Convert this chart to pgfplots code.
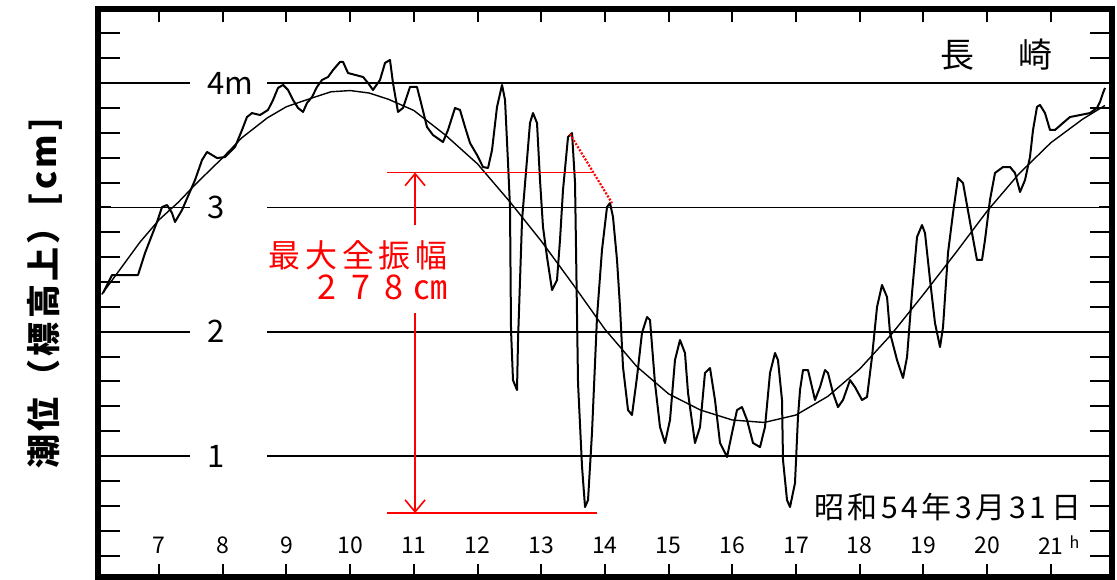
\documentclass[border=0pt]{standalone}
\usepackage{pgfplots}
\pgfplotsset{compat=1.18}
\usepackage{pgfplotstable}
\usepackage{fontspec}
\usetikzlibrary{arrows.meta}
\setmainfont{Noto Sans CJK JP}
\newfontfamily\redfont[LetterSpace=15]{Noto Sans CJK JP}
\newfontfamily\numfont[LetterSpace=44]{Noto Sans CJK JP}
\newfontfamily\datefont[LetterSpace=12]{Noto Sans CJK JP}
\newfontfamily\ylabfont[LetterSpace=10]{Noto Sans CJK JP}

\pgfplotstableread{
h v
6.121 2.311
6.262 2.456
6.670 2.456
6.780 2.633
6.969 2.883
7.047 3.003
7.126 3.019
7.204 2.955
7.251 2.883
7.361 2.979
7.565 3.220
7.675 3.381
7.754 3.446
7.911 3.397
8.036 3.405
8.193 3.486
8.303 3.623
8.381 3.727
8.460 3.759
8.586 3.743
8.711 3.784
8.790 3.864
8.868 3.961
8.947 3.985
9.025 3.945
9.104 3.864
9.182 3.800
9.261 3.768
9.323 3.840
9.402 3.888
9.480 3.969
9.559 4.025
9.653 4.049
9.732 4.105
9.841 4.170
9.889 4.170
9.967 4.081
10.203 4.049
10.281 4.001
10.359 3.945
10.469 4.025
10.548 4.162
10.626 4.186
10.673 4.001
10.752 3.768
10.830 3.800
10.940 3.969
11.050 3.969
11.129 3.808
11.207 3.647
11.301 3.582
11.458 3.526
11.537 3.623
11.647 3.800
11.725 3.784
11.804 3.647
11.882 3.518
11.992 3.422
12.086 3.325
12.165 3.317
12.228 3.462
12.306 3.808
12.385 3.985
12.432 3.864
12.479 3.357
12.510 3.003
12.526 2.014
12.557 1.611
12.620 1.531
12.636 1.933
12.699 2.899
12.824 3.679
12.871 3.759
12.934 3.679
12.981 3.220
13.028 2.842
13.091 2.601
13.170 2.335
13.248 2.416
13.295 2.738
13.342 3.140
13.421 3.566
13.484 3.598
13.531 3.196
13.578 1.587
13.641 0.912
13.688 0.590
13.735 0.646
13.797 1.185
13.876 2.118
13.954 2.657
14.033 3.003
14.080 3.035
14.127 2.923
14.190 2.577
14.237 2.199
14.284 1.716
14.363 1.370
14.425 1.330
14.504 1.636
14.582 1.990
14.661 2.118
14.708 2.094
14.786 1.587
14.865 1.233
14.943 1.105
15.022 1.290
15.100 1.772
15.179 1.933
15.257 1.829
15.305 1.507
15.414 1.105
15.493 1.233
15.571 1.668
15.650 1.708
15.728 1.451
15.807 1.105
15.917 0.992
15.995 1.185
16.074 1.370
16.152 1.394
16.231 1.290
16.325 1.105
16.435 1.072
16.513 1.233
16.592 1.668
16.670 1.829
16.717 1.772
16.780 1.451
16.796 0.968
16.859 0.646
16.906 0.590
16.984 0.783
17.031 1.314
17.063 1.531
17.110 1.692
17.188 1.692
17.251 1.555
17.298 1.451
17.377 1.555
17.455 1.692
17.502 1.668
17.581 1.507
17.659 1.394
17.738 1.451
17.848 1.611
17.926 1.555
18.036 1.451
18.115 1.475
18.193 1.796
18.272 2.199
18.350 2.376
18.429 2.279
18.476 1.990
18.586 1.772
18.680 1.628
18.743 1.796
18.821 2.311
18.900 2.762
18.978 2.858
19.025 2.794
19.104 2.416
19.182 2.070
19.261 1.877
19.308 2.038
19.386 2.633
19.465 2.955
19.543 3.237
19.622 3.196
19.763 2.794
19.841 2.577
19.920 2.577
19.967 2.738
20.045 3.060
20.124 3.277
20.250 3.325
20.360 3.325
20.438 3.277
20.517 3.124
20.595 3.220
20.673 3.405
20.721 3.623
20.783 3.808
20.830 3.824
20.909 3.759
20.987 3.623
21.066 3.623
21.191 3.679
21.301 3.727
21.458 3.743
21.615 3.759
21.725 3.800
21.772 3.848
21.819 3.920
21.851 3.961
}\record

\pgfplotstableread{
h v
6.10 2.30
6.30 2.44
6.70 2.72
7.00 2.90
7.30 3.04
7.60 3.20
8.00 3.40
8.30 3.56
8.70 3.72
9.00 3.81
9.40 3.88
9.70 3.93
10.00 3.94
10.30 3.92
10.60 3.87
11.00 3.78
11.50 3.58
12.00 3.35
12.50 3.05
13.00 2.73
13.50 2.38
14.00 2.02
14.50 1.72
15.00 1.50
15.50 1.37
16.00 1.29
16.50 1.27
17.00 1.33
17.50 1.48
18.00 1.70
18.50 1.98
19.00 2.30
19.50 2.63
20.00 2.97
20.50 3.27
21.00 3.52
21.50 3.71
21.85 3.82
}\smoothtide

\begin{document}
\begin{tikzpicture}
\path[use as bounding box] (-49pt,-1pt) rectangle (509.5pt,288.5pt);
\begin{axis}[
  at={(0pt,0pt)}, anchor=south west,
  scale only axis, width=507pt, height=284pt,
  xmin=6.042, xmax=21.961, ymin=0.027, ymax=4.596,
  axis line style={line width=2.8pt},
  tick align=inside,
  every tick/.style={black, line width=1pt},
  major tick length=6.5pt,
  minor tick length=11pt,
  xtick={7,8,9,10,11,12,13,14,15,16,17,18,19,20,21},
  xticklabels={7,8,9,10,11,12,13,14,15,16,17,18,19,20,21\rlap{\hspace{3pt}\raisebox{3pt}{\fontsize{8}{8}\selectfont h}}},
  xticklabel style={anchor=center, yshift=16pt, font=\fontsize{11.5}{11.5}\selectfont},
  ytick={1,2,3,4},
  yticklabels={\hspace*{8.5pt}1,\hspace*{8.5pt}2,\hspace*{8.5pt}3,\hspace*{8.5pt}4m},
  yticklabel style={anchor=west, xshift=46pt, fill=white, inner xsep=0pt, inner ysep=1pt, text width=38.5pt, align=left, font=\fontsize{15.5}{15.5}\selectfont},
  minor ytick={0.2,0.4,0.6,0.8,1.2,1.4,1.6,1.8,2.2,2.4,2.6,2.8,3.2,3.4,3.6,3.8,4.2,4.4},
  ymajorgrids, grid style={black, line width=0.9pt},
  ylabel={潮位（標高上）[cm]},
  ylabel style={at={(axis description cs:-0.0523,0.5)}, anchor=center, font=\fontsize{17}{17}\ylabfont\bfseries},
]
\addplot[black, line width=0.7pt] table[x=h, y=v] {\smoothtide};
\addplot[black, line width=1pt, line join=round] table[x=h, y=v] {\record};
% red annotations
\addplot[red, line width=0.8pt] coordinates {(10.58,3.281) (13.80,3.281)};
\addplot[red, line width=0.8pt] coordinates {(10.58,0.541) (13.88,0.541)};
\addplot[red, line width=1.1pt, dash pattern=on 1pt off 0.8pt] coordinates {(13.452,3.590) (14.111,3.035)};
\draw[red, line width=0.8pt, -{Straight Barb[length=6pt,width=10pt]}] (axis cs:11.02,2.858) -- (axis cs:11.02,3.281);
\draw[red, line width=0.8pt, -{Straight Barb[length=6pt,width=10pt]}] (axis cs:11.02,2.15) -- (axis cs:11.02,0.541);
\node[red, anchor=east, font=\fontsize{16}{16}\redfont, inner sep=0pt] at (axis cs:11.54,2.617) {最大全振幅};
\node[red, anchor=east, font=\fontsize{17}{17}\selectfont, inner sep=0pt] at (axis cs:11.54,2.360) {{\numfont 278}\hspace{5pt}㎝};
\node[font=\fontsize{17}{17}\selectfont] at (rel axis cs:0.886,0.919) {長\hspace{22pt}崎};
\node[font=\fontsize{15}{15}\datefont, fill=white, inner sep=1pt] at (rel axis cs:0.838,0.123) {昭和54年3月31\,日};
\end{axis}
\end{tikzpicture}
\end{document}
